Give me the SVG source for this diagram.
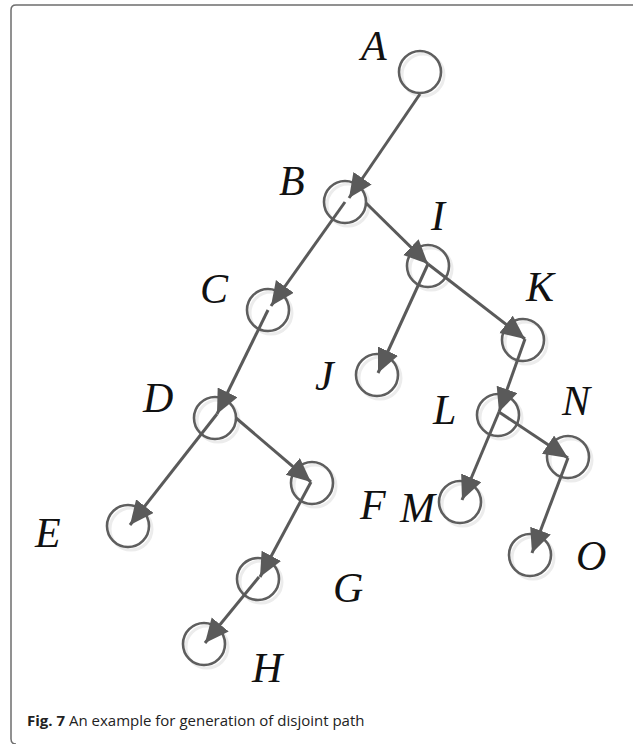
<svg xmlns="http://www.w3.org/2000/svg" width="633" height="744" viewBox="0 0 633 744">
<style>
.node circle.n{fill:none;stroke:#5e5e5e;stroke-width:2.6}
.node circle.s{fill:none;stroke:#ececec;stroke-width:3}
.lbl{font-family:"Liberation Serif","Times New Roman",serif;font-style:italic;font-size:42px;fill:#111}
.edge{stroke:#5a5a5a;stroke-width:3;fill:none;marker-end:url(#ah)}
.cap{font-family:"Open Sans","Noto Sans",sans-serif;font-size:15px;fill:#222}
</style>
<defs>
<marker id="ah" markerUnits="userSpaceOnUse" markerWidth="26" markerHeight="24" refX="24" refY="11" orient="auto">
<path d="M0,0 L24,11 L0,22 Z" fill="#5a5a5a"/>
</marker>
</defs>
<rect x="0" y="0" width="633" height="744" fill="#fff"/>
<path d="M633 5 H16 Q11 5 11 10 V739 Q11 744 16 744" fill="none" stroke="#6e6e6e" stroke-width="1.5"/>
<g id="nodes">
<g id="A" class="node"><circle class="s" cx="423" cy="75" r="21"/><circle class="n" cx="420" cy="72" r="21"/><text class="lbl" x="361" y="60">A</text></g>
<g id="B" class="node"><circle class="s" cx="348" cy="205" r="21"/><circle class="n" cx="345" cy="202" r="21"/><text class="lbl" x="279" y="195">B</text></g>
<g id="I" class="node"><circle class="s" cx="431" cy="269" r="21"/><circle class="n" cx="428" cy="266" r="21"/><text class="lbl" x="431" y="230">I</text></g>
<g id="C" class="node"><circle class="s" cx="271" cy="313" r="21"/><circle class="n" cx="268" cy="310" r="21"/><text class="lbl" x="200" y="303">C</text></g>
<g id="K" class="node"><circle class="s" cx="526" cy="343" r="21"/><circle class="n" cx="523" cy="340" r="21"/><text class="lbl" x="526" y="301">K</text></g>
<g id="J" class="node"><circle class="s" cx="380" cy="378" r="21"/><circle class="n" cx="377" cy="375" r="21"/><text class="lbl" x="315" y="390">J</text></g>
<g id="D" class="node"><circle class="s" cx="218" cy="421" r="21"/><circle class="n" cx="215" cy="418" r="21"/><text class="lbl" x="143" y="412">D</text></g>
<g id="L" class="node"><circle class="s" cx="501" cy="418" r="21"/><circle class="n" cx="498" cy="415" r="21"/><text class="lbl" x="433" y="424">L</text></g>
<g id="N" class="node"><circle class="s" cx="571" cy="460" r="21"/><circle class="n" cx="568" cy="457" r="21"/><text class="lbl" x="562" y="415">N</text></g>
<g id="Fn" class="node"><circle class="s" cx="315" cy="486" r="21"/><circle class="n" cx="312" cy="483" r="21"/><text class="lbl" x="360" y="519">F</text></g>
<g id="M" class="node"><circle class="s" cx="463" cy="505" r="21"/><circle class="n" cx="460" cy="502" r="21"/><text class="lbl" x="400" y="522">M</text></g>
<g id="E" class="node"><circle class="s" cx="131" cy="529" r="21"/><circle class="n" cx="128" cy="526" r="21"/><text class="lbl" x="35" y="547">E</text></g>
<g id="O" class="node"><circle class="s" cx="533" cy="558" r="21"/><circle class="n" cx="530" cy="555" r="21"/><text class="lbl" x="576" y="570">O</text></g>
<g id="G" class="node"><circle class="s" cx="261" cy="582" r="21"/><circle class="n" cx="258" cy="579" r="21"/><text class="lbl" x="333" y="602">G</text></g>
<g id="H" class="node"><circle class="s" cx="207" cy="647" r="21"/><circle class="n" cx="204" cy="644" r="21"/><text class="lbl" x="252" y="682">H</text></g>
</g>
<g id="connectors">
<line class="edge" x1="420" y1="94" x2="349" y2="198"/>
<line class="edge" x1="345" y1="202" x2="271" y2="306"/>
<line class="edge" x1="366" y1="203" x2="428" y2="264"/>
<line class="edge" x1="428" y1="264" x2="378" y2="373"/>
<line class="edge" x1="428" y1="264" x2="525" y2="339"/>
<line class="edge" x1="525" y1="339" x2="499" y2="412"/>
<line class="edge" x1="499" y1="412" x2="462" y2="500"/>
<line class="edge" x1="499" y1="412" x2="568" y2="458"/>
<line class="edge" x1="568" y1="458" x2="532" y2="553"/>
<line class="edge" x1="268" y1="310" x2="217" y2="414"/>
<line class="edge" x1="217" y1="414" x2="130" y2="525"/>
<line class="edge" x1="236" y1="418" x2="311" y2="482"/>
<line class="edge" x1="311" y1="482" x2="260" y2="577"/>
<line class="edge" x1="259" y1="577" x2="205" y2="643"/>
</g>
<text class="cap" x="27" y="726"><tspan font-weight="bold">Fig. 7</tspan> An example for generation of disjoint path</text>
</svg>
